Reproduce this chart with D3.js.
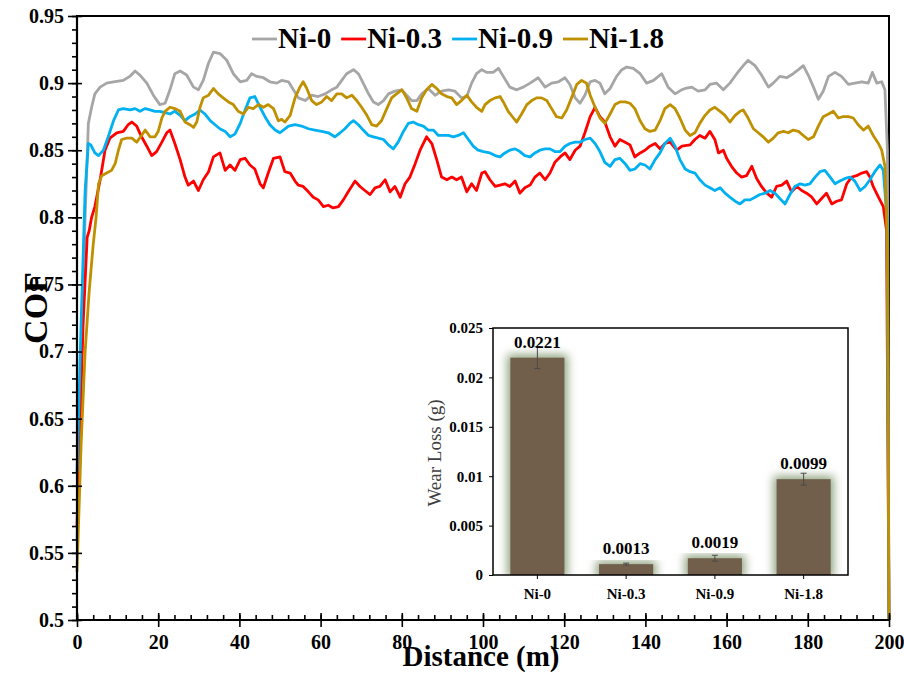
<!DOCTYPE html>
<html>
<head>
<meta charset="utf-8">
<script src="https://cdn.jsdelivr.net/npm/d3@7"></script>
<style>
  body { margin: 0; background: #fff; }
  svg { display: block; font-family: "Liberation Serif", "Times New Roman", serif; }
</style>
</head>
<body>
<div id="wrapper"></div>
<script>
// COF curves, [distance (m), COF]
const ni0 = [[0,0.56],[1,0.68],[2,0.8],[2.8,0.87],[3.6,0.882],[4.4,0.892],[5.7,0.897],[7.3,0.900],[9.0,0.901],[11.4,0.902],[13.0,0.905],[14.3,0.909],[15.5,0.906],[17.2,0.900],[18.8,0.891],[20.4,0.884],[21.7,0.885],[22.9,0.895],[24.1,0.907],[25.4,0.909],[27.0,0.906],[28.7,0.897],[29.9,0.895],[31.1,0.902],[32.4,0.915],[33.6,0.923],[35.2,0.922],[36.9,0.917],[38.5,0.907],[40.2,0.901],[41.8,0.902],[43.0,0.907],[44.3,0.905],[45.9,0.904],[47.5,0.901],[49.2,0.900],[50.4,0.902],[52.1,0.901],[53.3,0.895],[54.5,0.889],[56.2,0.887],[57.8,0.891],[59.4,0.890],[61.1,0.892],[62.7,0.895],[64.0,0.897],[65.2,0.902],[66.4,0.907],[68.1,0.910],[69.3,0.907],[70.5,0.900],[71.8,0.892],[73.0,0.886],[74.2,0.884],[75.5,0.887],[76.7,0.892],[78.3,0.894],[80.0,0.895],[81.2,0.891],[82.4,0.887],[83.7,0.887],[84.9,0.892],[86.5,0.896],[88.2,0.891],[89.8,0.894],[91.5,0.895],[93.1,0.894],[94.7,0.889],[96.0,0.890],[97.2,0.900],[98.4,0.907],[99.7,0.910],[100.9,0.908],[102.5,0.908],[103.8,0.911],[105.0,0.905],[106.6,0.897],[108.3,0.895],[109.9,0.897],[111.6,0.900],[113.6,0.904],[115.3,0.897],[116.9,0.900],[118.6,0.901],[120.2,0.904],[121.4,0.899],[122.7,0.889],[123.9,0.885],[125.1,0.891],[126.4,0.901],[127.6,0.902],[128.8,0.900],[130.0,0.892],[131.3,0.896],[132.9,0.905],[134.2,0.910],[135.4,0.912],[137.0,0.911],[138.7,0.907],[140.3,0.900],[142.0,0.902],[144.0,0.907],[145.6,0.897],[147.3,0.892],[148.9,0.895],[149.8,0.896],[151.4,0.897],[153.0,0.894],[154.7,0.895],[155.9,0.899],[157.5,0.900],[159.2,0.895],[160.8,0.900],[162.5,0.907],[164.1,0.913],[165.3,0.917],[167.0,0.913],[168.6,0.906],[170.3,0.897],[171.5,0.900],[173.1,0.905],[174.8,0.904],[176.4,0.907],[177.7,0.910],[178.9,0.913],[180.1,0.906],[181.4,0.897],[182.6,0.888],[183.8,0.894],[185.1,0.905],[186.7,0.908],[188.3,0.905],[190.0,0.899],[191.6,0.900],[193.3,0.901],[194.9,0.900],[195.9,0.908],[197.0,0.900],[198.2,0.901],[199.0,0.895],[199.6,0.85],[200,0.5]];

const ni03 = [[0,0.57],[0.3,0.605],[1.5,0.72],[2.5,0.785],[3.0,0.79],[3.6,0.80],[4.4,0.808],[5.7,0.828],[6.9,0.850],[8.1,0.859],[9.8,0.863],[11.4,0.864],[12.6,0.869],[13.5,0.871],[14.7,0.868],[15.9,0.860],[17.2,0.853],[18.4,0.846],[19.6,0.849],[20.9,0.856],[22.1,0.863],[22.9,0.865],[24.1,0.855],[25.4,0.843],[26.6,0.830],[27.4,0.824],[28.7,0.827],[29.9,0.820],[31.1,0.828],[32.4,0.834],[33.6,0.845],[35.2,0.848],[36.5,0.835],[37.7,0.839],[38.9,0.835],[40.2,0.843],[41.4,0.844],[42.6,0.839],[43.8,0.836],[45.1,0.825],[45.9,0.822],[47.1,0.833],[48.4,0.844],[50.0,0.845],[51.2,0.834],[52.5,0.833],[53.7,0.827],[54.5,0.824],[55.7,0.823],[57.0,0.819],[58.2,0.815],[59.4,0.813],[60.7,0.808],[61.9,0.809],[63.1,0.807],[64.4,0.808],[65.6,0.813],[66.8,0.819],[68.5,0.827],[69.7,0.823],[70.9,0.820],[72.2,0.817],[73.4,0.822],[74.6,0.823],[75.9,0.828],[77.1,0.819],[78.3,0.823],[79.6,0.815],[80.8,0.825],[82.0,0.830],[83.3,0.840],[84.5,0.850],[86.1,0.860],[87.4,0.855],[88.6,0.843],[89.8,0.830],[91.1,0.828],[92.3,0.830],[93.5,0.828],[94.7,0.830],[96.0,0.819],[97.2,0.825],[98.4,0.820],[99.7,0.833],[100.5,0.834],[101.7,0.828],[103.0,0.823],[104.2,0.824],[105.4,0.825],[106.6,0.823],[107.9,0.827],[109.1,0.818],[110.3,0.822],[111.6,0.824],[112.8,0.830],[114.0,0.833],[115.3,0.828],[116.5,0.833],[117.7,0.841],[119.0,0.845],[120.2,0.848],[121.4,0.843],[122.7,0.850],[123.9,0.853],[125.1,0.863],[126.4,0.875],[127.6,0.882],[128.8,0.875],[130.0,0.871],[131.3,0.860],[132.5,0.853],[133.7,0.858],[135.0,0.856],[136.2,0.854],[137.4,0.845],[138.7,0.848],[139.9,0.850],[141.1,0.853],[142.4,0.855],[143.6,0.851],[144.8,0.855],[146.1,0.856],[147.7,0.850],[149.0,0.853],[151.0,0.854],[152.2,0.858],[153.4,0.861],[154.7,0.859],[155.9,0.864],[157.1,0.858],[158.0,0.848],[159.2,0.850],[160.0,0.844],[161.2,0.838],[162.5,0.833],[163.7,0.830],[164.9,0.831],[166.2,0.838],[167.4,0.829],[168.6,0.823],[169.9,0.818],[171.1,0.815],[172.3,0.823],[173.6,0.824],[174.8,0.827],[176.0,0.819],[177.3,0.823],[178.5,0.820],[179.7,0.818],[181.0,0.815],[182.2,0.810],[183.4,0.814],[184.6,0.818],[185.9,0.810],[187.1,0.812],[188.3,0.813],[189.6,0.825],[190.8,0.830],[192.0,0.831],[193.3,0.833],[194.5,0.834],[195.3,0.830],[196.1,0.823],[197.4,0.815],[198.6,0.808],[199.4,0.79],[200,0.5]];

const ni09 = [[0,0.61],[1,0.72],[2,0.82],[2.8,0.855],[3.4,0.854],[4.4,0.848],[5.3,0.846],[6.5,0.850],[7.7,0.860],[9.0,0.872],[10.2,0.880],[11.4,0.881],[13.1,0.880],[14.3,0.881],[15.5,0.879],[16.8,0.881],[18.0,0.880],[19.2,0.879],[20.4,0.879],[21.7,0.878],[22.9,0.877],[24.1,0.879],[25.4,0.876],[26.6,0.872],[27.8,0.875],[29.1,0.877],[30.3,0.880],[31.5,0.877],[32.8,0.872],[34.0,0.869],[35.2,0.866],[36.5,0.864],[37.7,0.860],[38.9,0.862],[40.2,0.870],[41.4,0.880],[42.6,0.889],[43.8,0.890],[45.1,0.882],[46.3,0.875],[47.5,0.869],[48.8,0.865],[50.0,0.863],[52.1,0.868],[53.7,0.869],[55.3,0.868],[57.0,0.866],[58.6,0.865],[60.3,0.864],[61.9,0.863],[63.5,0.860],[64.8,0.863],[66.0,0.866],[67.2,0.870],[68.1,0.872],[69.3,0.869],[70.5,0.865],[71.8,0.861],[73.0,0.860],[74.2,0.859],[75.5,0.858],[76.7,0.854],[77.9,0.851],[79.1,0.856],[80.4,0.864],[81.6,0.870],[82.8,0.871],[84.1,0.869],[85.3,0.868],[86.5,0.865],[87.8,0.865],[89.0,0.861],[90.2,0.861],[91.5,0.861],[92.7,0.860],[93.9,0.861],[95.2,0.863],[96.4,0.858],[97.6,0.853],[98.8,0.850],[100.1,0.849],[101.7,0.848],[103.0,0.846],[104.2,0.845],[105.4,0.848],[106.6,0.850],[107.9,0.851],[109.1,0.849],[110.3,0.846],[111.6,0.845],[112.8,0.848],[114.0,0.850],[115.3,0.851],[116.5,0.851],[117.7,0.849],[119.0,0.849],[120.2,0.853],[121.4,0.855],[122.7,0.856],[123.9,0.856],[125.1,0.858],[126.4,0.859],[127.6,0.855],[128.8,0.849],[130.0,0.841],[131.3,0.838],[132.5,0.843],[133.7,0.844],[135.0,0.840],[136.2,0.835],[137.4,0.836],[138.7,0.840],[139.9,0.839],[141.1,0.836],[142.4,0.843],[143.6,0.848],[144.8,0.855],[146.1,0.859],[147.3,0.853],[148.5,0.843],[149.8,0.836],[151.0,0.834],[152.2,0.833],[153.4,0.828],[154.7,0.824],[155.9,0.822],[157.1,0.820],[158.4,0.822],[159.6,0.818],[160.8,0.815],[162.1,0.812],[163.3,0.810],[164.5,0.813],[165.8,0.813],[167.0,0.815],[168.2,0.817],[169.5,0.818],[170.7,0.820],[171.9,0.818],[173.1,0.814],[174.4,0.810],[175.6,0.817],[176.8,0.823],[178.1,0.825],[179.3,0.824],[180.5,0.825],[181.8,0.830],[183.0,0.834],[184.2,0.835],[185.5,0.830],[186.7,0.825],[187.9,0.827],[189.2,0.829],[190.4,0.830],[191.6,0.827],[192.9,0.820],[194.1,0.823],[195.3,0.828],[196.5,0.834],[197.8,0.839],[198.6,0.835],[199.5,0.80],[200,0.5]];

const ni18 = [[0,0.536],[1,0.63],[2,0.70],[3,0.745],[4,0.78],[4.7,0.80],[5.3,0.825],[6.1,0.831],[7.3,0.833],[8.5,0.835],[9.4,0.840],[10.2,0.850],[11.0,0.858],[12.2,0.859],[13.5,0.859],[14.7,0.856],[15.9,0.861],[16.8,0.865],[18.0,0.860],[19.2,0.860],[20.0,0.864],[20.9,0.874],[21.7,0.879],[22.9,0.882],[24.1,0.881],[25.4,0.879],[26.6,0.871],[27.8,0.869],[28.7,0.867],[29.5,0.871],[30.3,0.882],[31.1,0.889],[32.4,0.891],[33.6,0.896],[34.8,0.892],[36.0,0.889],[37.3,0.886],[38.5,0.884],[39.7,0.879],[41.0,0.877],[42.2,0.882],[43.4,0.881],[44.7,0.884],[45.9,0.882],[47.1,0.884],[48.4,0.881],[49.6,0.872],[50.4,0.873],[51.2,0.871],[52.5,0.876],[53.7,0.889],[54.9,0.897],[55.7,0.901],[56.6,0.896],[57.8,0.887],[59.0,0.884],[60.3,0.886],[61.5,0.890],[62.7,0.887],[64.0,0.892],[65.2,0.892],[66.4,0.889],[67.7,0.891],[68.9,0.887],[70.1,0.882],[71.4,0.876],[72.6,0.869],[73.8,0.868],[75.0,0.872],[76.3,0.881],[77.5,0.889],[78.7,0.892],[80.0,0.895],[81.2,0.889],[82.4,0.881],[83.7,0.879],[84.9,0.889],[86.1,0.895],[87.4,0.899],[88.6,0.896],[89.8,0.892],[91.1,0.890],[92.3,0.889],[93.5,0.884],[94.7,0.887],[96.0,0.891],[97.2,0.886],[98.4,0.882],[99.7,0.879],[100.5,0.884],[101.7,0.887],[103.0,0.889],[104.2,0.890],[105.0,0.886],[106.2,0.879],[107.5,0.874],[108.3,0.871],[109.5,0.877],[110.8,0.884],[112.0,0.887],[113.2,0.889],[114.4,0.889],[115.7,0.887],[116.9,0.881],[118.1,0.875],[119.4,0.874],[120.6,0.880],[121.8,0.889],[123.1,0.899],[124.3,0.902],[125.5,0.900],[126.4,0.891],[127.6,0.882],[128.8,0.874],[130.0,0.870],[131.3,0.877],[132.5,0.884],[133.7,0.886],[135.0,0.886],[136.2,0.885],[137.4,0.881],[138.7,0.872],[139.9,0.866],[141.1,0.864],[142.4,0.865],[143.6,0.872],[144.8,0.881],[146.1,0.884],[147.3,0.881],[148.5,0.874],[149.8,0.865],[151.0,0.861],[152.2,0.863],[153.4,0.870],[154.7,0.876],[155.9,0.880],[157.1,0.882],[158.4,0.879],[159.6,0.876],[160.8,0.871],[162.1,0.876],[163.3,0.879],[164.1,0.880],[165.3,0.874],[166.6,0.866],[167.8,0.863],[169.0,0.860],[170.3,0.856],[171.5,0.859],[172.7,0.863],[174.0,0.864],[175.2,0.863],[176.4,0.865],[177.7,0.864],[178.9,0.861],[180.1,0.858],[181.4,0.860],[182.6,0.868],[183.8,0.875],[185.1,0.877],[186.3,0.879],[187.5,0.874],[188.7,0.875],[190.0,0.875],[191.2,0.874],[192.4,0.869],[193.7,0.865],[194.9,0.868],[196.1,0.861],[197.4,0.855],[198.2,0.850],[199.0,0.838],[199.6,0.78],[200,0.5]];

const seriesNames = ["Ni-0", "Ni-0.3", "Ni-0.9", "Ni-1.8"];
const seriesColors = ["#a6a6a6", "#ff0000", "#00b0f0", "#bf9000"];
const seriesData = [ni0, ni03, ni09, ni18];

const xTicks = [0, 20, 40, 60, 80, 100, 120, 140, 160, 180, 200];
const yTicks = [0.5, 0.55, 0.6, 0.65, 0.7, 0.75, 0.8, 0.85, 0.9, 0.95];

// inset: wear loss
const wearCategories = ["Ni-0", "Ni-0.3", "Ni-0.9", "Ni-1.8"];
const wearLoss = [0.0220, 0.0011, 0.0017, 0.0097];
const wearError = [0.0011, 0.0001, 0.0003, 0.0006];
const wearLabels = ["0.0221", "0.0013", "0.0019", "0.0099"];
const wearTicks = [0, 0.005, 0.01, 0.015, 0.02, 0.025];

const width = 904, height = 675;
const dim = { left: 77, right: 889, top: 16, bottom: 620 };
const serif = "'Liberation Serif', 'Times New Roman', serif";

const svg = d3.select("#wrapper").append("svg")
    .attr("width", width)
    .attr("height", height);

const xScaler = d3.scaleLinear().domain([0, 200]).range([dim.left, dim.right]);
const yScaler = d3.scaleLinear().domain([0.5, 0.95]).range([dim.bottom, dim.top]);

// frame
svg.append("rect")
    .attr("x", dim.left).attr("y", dim.top)
    .attr("width", dim.right - dim.left).attr("height", dim.bottom - dim.top)
    .attr("fill", "none").attr("stroke", "#000").attr("stroke-width", 2);

// curves
const lineGen = d3.line()
    .x(d => xScaler(d[0]))
    .y(d => yScaler(d[1]));

seriesData.forEach((s, i) => {
    svg.append("path")
        .attr("d", lineGen(s))
        .attr("fill", "none")
        .attr("stroke", seriesColors[i])
        .attr("stroke-width", 2.8)
        .attr("stroke-linejoin", "round");
});

// axes
const yMinor = d3.range(50, 96).map(v => v / 100);
const xMinor = d3.range(0, 201, 4);

function styleAxis(g, fontSize) {
    g.attr("font-family", serif);
    g.selectAll(".domain").remove();
    g.selectAll("line").attr("stroke", "#000").attr("stroke-width", 1.6);
    g.selectAll("text")
        .style("font-family", serif)
        .attr("font-weight", "bold")
        .attr("font-size", fontSize)
        .attr("fill", "#000");
}

svg.append("g").attr("transform", `translate(${dim.left},0)`)
    .call(d3.axisLeft(yScaler).tickValues(yMinor).tickSize(5).tickFormat(""))
    .call(g => styleAxis(g, 20));
svg.append("g").attr("transform", `translate(${dim.left},0)`)
    .call(d3.axisRight(yScaler).tickValues(yTicks).tickSize(5).tickFormat(""))
    .call(g => styleAxis(g, 20));
svg.append("g").attr("transform", `translate(${dim.left},0)`)
    .call(d3.axisLeft(yScaler).tickValues(yTicks).tickSize(9).tickPadding(4).tickFormat(d => String(d)))
    .call(g => styleAxis(g, 20));

svg.append("g").attr("transform", `translate(0,${dim.bottom})`)
    .call(d3.axisTop(xScaler).tickValues(xMinor).tickSize(5).tickFormat(""))
    .call(g => styleAxis(g, 20));
svg.append("g").attr("transform", `translate(0,${dim.bottom})`)
    .call(d3.axisBottom(xScaler).tickValues(xTicks).tickSize(7).tickPadding(8).tickFormat(d => String(d)))
    .call(g => styleAxis(g, 20));
svg.append("g").attr("transform", `translate(0,${dim.bottom})`)
    .call(d3.axisTop(xScaler).tickValues(xTicks).tickSize(7).tickFormat(""))
    .call(g => styleAxis(g, 20));

svg.append("line")
    .attr("x1", dim.left).attr("x2", dim.left)
    .attr("y1", dim.top).attr("y2", dim.bottom)
    .attr("stroke", "#000").attr("stroke-width", 2.2);
svg.append("line")
    .attr("x1", dim.left).attr("x2", dim.right)
    .attr("y1", dim.bottom).attr("y2", dim.bottom)
    .attr("stroke", "#000").attr("stroke-width", 2.2);

// axis titles
svg.append("text")
    .attr("x", 481).attr("y", 666)
    .attr("text-anchor", "middle")
    .attr("font-weight", "bold").attr("font-size", 29)
    .text("Distance (m)");
svg.append("text")
    .attr("transform", "translate(47,308) rotate(-90)")
    .attr("text-anchor", "middle")
    .attr("font-weight", "bold").attr("font-size", 34)
    .text("COF");

// legend
const legend = svg.append("g");
let lx = 252;
seriesNames.forEach((name, i) => {
    legend.append("line")
        .attr("x1", lx).attr("x2", lx + 25)
        .attr("y1", 39).attr("y2", 39)
        .attr("stroke", seriesColors[i]).attr("stroke-width", 2.8);
    const t = legend.append("text")
        .attr("x", lx + 26).attr("y", 48)
        .attr("font-weight", "bold").attr("font-size", 29)
        .text(name);
    lx += 26 + t.node().getComputedTextLength() + 10;
});

// inset bar chart
const inset = { left: 493, right: 848, top: 328, bottom: 575 };
const xBand = d3.scaleBand().domain(wearCategories)
    .range([inset.left, inset.right]).paddingInner(0.39).paddingOuter(0.195);
const yWear = d3.scaleLinear().domain([0, 0.025]).range([inset.bottom, inset.top]);

const defs = svg.append("defs");
const glow = defs.append("filter").attr("id", "glow")
    .attr("x", "-50%").attr("y", "-30%").attr("width", "200%").attr("height", "160%");
glow.append("feMorphology").attr("in", "SourceAlpha").attr("operator", "dilate").attr("radius", 3).attr("result", "fat");
glow.append("feGaussianBlur").attr("in", "fat").attr("stdDeviation", 5).attr("result", "blur");
glow.append("feFlood").attr("flood-color", "#8fa27e").attr("result", "col");
glow.append("feComposite").attr("in", "col").attr("in2", "blur").attr("operator", "in").attr("result", "shadow");
const merge = glow.append("feMerge");
merge.append("feMergeNode").attr("in", "shadow");
merge.append("feMergeNode").attr("in", "SourceGraphic");

svg.append("rect")
    .attr("x", inset.left).attr("y", inset.top)
    .attr("width", inset.right - inset.left).attr("height", inset.bottom - inset.top)
    .attr("fill", "#fff");

const barClip = defs.append("clipPath").attr("id", "insetClip");
barClip.append("rect")
    .attr("x", inset.left).attr("y", inset.top)
    .attr("width", inset.right - inset.left).attr("height", inset.bottom - inset.top);

svg.append("g").attr("clip-path", "url(#insetClip)")
    .selectAll("rect")
    .data(wearLoss)
    .join("rect")
    .attr("x", (d, i) => xBand(wearCategories[i]))
    .attr("y", d => yWear(d))
    .attr("width", xBand.bandwidth())
    .attr("height", d => yWear(0) - yWear(d))
    .attr("fill", "#715f4c")
    .attr("filter", "url(#glow)");

// error bars
const errG = svg.append("g").attr("stroke", "#4a4a4a").attr("stroke-width", 1);
wearLoss.forEach((v, i) => {
    const cx = xBand(wearCategories[i]) + xBand.bandwidth() / 2;
    errG.append("line").attr("x1", cx).attr("x2", cx)
        .attr("y1", yWear(v + wearError[i])).attr("y2", yWear(v - wearError[i]));
    [v + wearError[i], v - wearError[i]].forEach(e => {
        errG.append("line").attr("x1", cx - 3).attr("x2", cx + 3)
            .attr("y1", yWear(e)).attr("y2", yWear(e));
    });
});

svg.append("g").selectAll("text")
    .data(wearLabels)
    .join("text")
    .attr("x", (d, i) => xBand(wearCategories[i]) + xBand.bandwidth() / 2)
    .attr("y", (d, i) => yWear(wearLoss[i]) - 10)
    .attr("text-anchor", "middle")
    .attr("font-weight", "bold").attr("font-size", 17)
    .text(d => d);

svg.append("rect")
    .attr("x", inset.left).attr("y", inset.top)
    .attr("width", inset.right - inset.left).attr("height", inset.bottom - inset.top)
    .attr("fill", "none").attr("stroke", "#000").attr("stroke-width", 1.5);

svg.append("g").attr("transform", `translate(${inset.left},0)`)
    .call(d3.axisLeft(yWear).tickValues(wearTicks).tickSize(4).tickPadding(6).tickFormat(d => String(d)))
    .call(g => styleAxis(g, 15))
    .call(g => g.selectAll("line").attr("stroke-width", 1));

svg.append("g").attr("transform", `translate(0,${inset.bottom})`)
    .call(d3.axisBottom(xBand).tickSize(4).tickPadding(9))
    .call(g => styleAxis(g, 15))
    .call(g => g.selectAll("line").attr("stroke-width", 1));

svg.append("text")
    .attr("transform", "translate(441,453) rotate(-90)")
    .attr("text-anchor", "middle")
    .attr("font-size", 19).attr("fill", "#404040")
    .text("Wear Loss (g)");
</script>
</body>
</html>
